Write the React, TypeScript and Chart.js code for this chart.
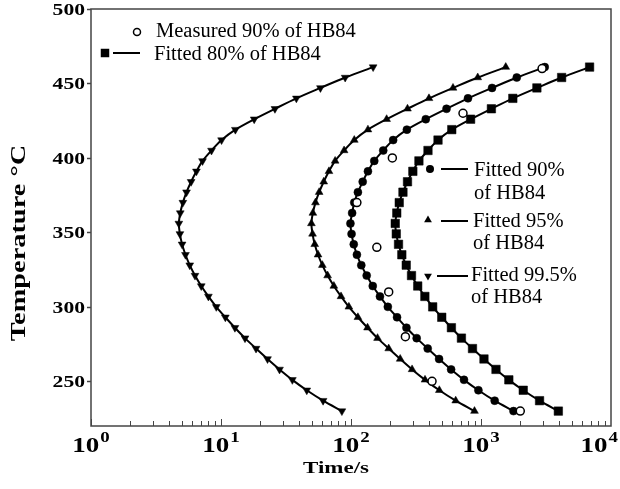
import React, { useEffect, useRef } from 'react';
import { Chart, registerables } from 'chart.js';
Chart.register(...registerables);

// Temperatures (°C) at which the fitted curves are sampled
const TEMPS = [230, 237, 244, 251, 258, 265, 272, 279, 286, 293, 300, 307, 314, 321, 328, 335, 342, 349, 356, 363, 370, 377, 384, 391, 398, 405, 412, 419, 426, 433, 440, 447, 454, 461];
// Times (s)
const FIT_99_5 = [85.1, 61.0, 45.7, 35.4, 28.2, 22.8, 18.6, 15.3, 12.8, 10.8, 9.2, 8.0, 7.05, 6.31, 5.75, 5.33, 5.02, 4.83, 4.74, 4.86, 5.09, 5.43, 5.89, 6.47, 7.21, 8.45, 10.1, 12.9, 18.0, 26.0, 38.0, 58.2, 90.2, 148];
const FIT_95 = [891, 639, 478, 371, 295, 239, 195, 160, 134, 113, 96.3, 83.8, 73.8, 66.1, 60.2, 55.8, 52.6, 50.6, 49.6, 50.9, 53.3, 56.9, 61.7, 67.7, 75.5, 88.5, 106, 135, 188, 272, 398, 609, 944, 1550];
const FIT_90 = [1778, 1274, 955, 740, 589, 476, 389, 320, 267, 226, 192, 167, 147, 132, 120, 111, 105, 101, 99.0, 102, 106, 113, 123, 135, 151, 177, 211, 269, 376, 543, 794, 1216, 1884, 3092];
const FIT_80 = [3935, 2821, 2113, 1637, 1304, 1054, 860, 707, 592, 499, 425, 370, 326, 292, 266, 246, 232, 223, 219, 225, 235, 251, 272, 299, 333, 391, 467, 596, 832, 1202, 1757, 2691, 4171, 6844];
const MEAS_T = [460, 430, 400, 370, 340, 310, 280, 250, 230];
const MEAS_TIME = [2950, 727, 208, 111, 158, 195, 262, 420, 2005];

const Y_TICKS = [250, 300, 350, 400, 450, 500];
const X_EXPONENTS = [0, 1, 2, 3, 4];
const X_MIN = 1, X_MAX = 10000, Y_MIN = 220, Y_MAX = 500;

const W = 620, H = 489;
const SX = 1.35;
const SERIF = '"Liberation Serif", "Times New Roman", serif';

const pts = (xs: number[], ys: number[]) => xs.map((x, i) => ({ x, y: ys[i] }));

function sText(ctx: CanvasRenderingContext2D, text: string, x: number, y: number, font: string, align: CanvasTextAlign, baseline: CanvasTextBaseline, sx = SX) {
  ctx.save();
  ctx.font = font;
  ctx.translate(x, y);
  ctx.scale(sx, 1);
  ctx.textAlign = align;
  ctx.textBaseline = baseline;
  ctx.fillStyle = '#000';
  ctx.fillText(text, 0, 0);
  ctx.restore();
}

function marker(ctx: CanvasRenderingContext2D, style: string, x: number, y: number, r: number, rot = 0) {
  ctx.save();
  ctx.fillStyle = '#000';
  ctx.strokeStyle = '#000';
  ctx.lineWidth = 1.5;
  ctx.beginPath();
  if (style === 'circle' || style === 'open') {
    ctx.arc(x, y, r, 0, Math.PI * 2);
    if (style === 'open') { ctx.fillStyle = '#fff'; ctx.fill(); ctx.stroke(); } else ctx.fill();
  } else if (style === 'rect') {
    const s = r * Math.SQRT1_2;
    ctx.rect(x - s, y - s, 2 * s, 2 * s);
    ctx.fill();
  } else {
    let a = (rot * Math.PI) / 180;
    ctx.moveTo(x + Math.sin(a) * r, y - Math.cos(a) * r);
    a += (2 * Math.PI) / 3;
    ctx.lineTo(x + Math.sin(a) * r, y - Math.cos(a) * r);
    a += (2 * Math.PI) / 3;
    ctx.lineTo(x + Math.sin(a) * r, y - Math.cos(a) * r);
    ctx.closePath();
    ctx.fill();
  }
  ctx.restore();
}

const decorPlugin = {
  id: 'decor',
  afterDraw(chart: any) {
    const ctx: CanvasRenderingContext2D = chart.ctx;
    const { left, right, top, bottom } = chart.chartArea;
    const xs = chart.scales.x, ys = chart.scales.y;
    ctx.save();
    // frame
    ctx.strokeStyle = '#444';
    ctx.lineWidth = 1.5;
    ctx.strokeRect(left, top, right - left, bottom - top);
    // y ticks
    ctx.lineWidth = 1.5;
    for (const v of Y_TICKS) {
      const py = Math.round(ys.getPixelForValue(v)) + 0.5;
      ctx.beginPath(); ctx.moveTo(left - 4, py); ctx.lineTo(left, py); ctx.stroke();
      sText(ctx, String(v), left - 6, py + 1, `bold 16px ${SERIF}`, 'right', 'middle');
    }
    // x ticks (inward)
    ctx.lineWidth = 1;
    for (let e = 0; e < 4; e++) {
      for (let m = 1; m <= 9; m++) {
        const px = Math.round(xs.getPixelForValue(m * Math.pow(10, e))) + 0.5;
        const len = m === 1 ? 7 : 5;
        ctx.beginPath(); ctx.moveTo(px, bottom); ctx.lineTo(px, bottom - len); ctx.stroke();
      }
    }
    // x tick labels 10^n
    const baseFont = `bold 20px ${SERIF}`, supFont = `bold 14px ${SERIF}`;
    for (const e of X_EXPONENTS) {
      const px = xs.getPixelForValue(Math.pow(10, e));
      ctx.font = baseFont; const w1 = ctx.measureText('10').width * SX;
      ctx.font = supFont; const w2 = ctx.measureText(String(e)).width * SX;
      let lx = px - (w1 + w2 + 1) / 2;
      if (lx + w1 + w2 + 1 > W - 2) lx = W - 2 - (w1 + w2 + 1);
      sText(ctx, '10', lx, bottom + 26, baseFont, 'left', 'alphabetic');
      sText(ctx, String(e), lx + w1 + 1, bottom + 16, supFont, 'left', 'alphabetic');
    }
    // axis titles
    sText(ctx, 'Time/s', 336, bottom + 43, `bold 17px ${SERIF}`, 'center', 'middle');
    ctx.save();
    ctx.translate(20, 243);
    ctx.rotate(-Math.PI / 2);
    sText(ctx, 'Temperature °C', 0, 0, `bold 21px ${SERIF}`, 'center', 'middle');
    ctx.restore();

    // legends
    const lf = `20.5px ${SERIF}`;
    ctx.strokeStyle = '#000';
    ctx.lineWidth = 2;
    marker(ctx, 'open', 137, 32, 3.5);
    sText(ctx, 'Measured 90% of HB84', 156, 37, lf, 'left', 'alphabetic', 1);
    marker(ctx, 'rect', 105, 53, 6);
    ctx.beginPath(); ctx.moveTo(113, 53); ctx.lineTo(140, 53); ctx.stroke();
    sText(ctx, 'Fitted 80% of HB84', 154, 60, lf, 'left', 'alphabetic', 1);

    marker(ctx, 'circle', 430, 169, 4);
    ctx.beginPath(); ctx.moveTo(441, 169); ctx.lineTo(468, 169); ctx.stroke();
    sText(ctx, 'Fitted 90%', 474, 176, lf, 'left', 'alphabetic', 1);
    sText(ctx, 'of HB84', 474, 199, lf, 'left', 'alphabetic', 1);

    marker(ctx, 'triangle', 428, 220, 4.5);
    ctx.beginPath(); ctx.moveTo(441, 221); ctx.lineTo(468, 221); ctx.stroke();
    sText(ctx, 'Fitted 95%', 473, 227, lf, 'left', 'alphabetic', 1);
    sText(ctx, 'of HB84', 473, 249, lf, 'left', 'alphabetic', 1);

    marker(ctx, 'triangle', 428, 276, 4.5, 180);
    ctx.beginPath(); ctx.moveTo(437, 276); ctx.lineTo(468, 276); ctx.stroke();
    sText(ctx, 'Fitted 99.5%', 471, 281, lf, 'left', 'alphabetic', 1);
    sText(ctx, 'of HB84', 471, 303, lf, 'left', 'alphabetic', 1);
    ctx.restore();
  },
};

export default function App() {
  const ref = useRef<HTMLCanvasElement>(null);
  useEffect(() => {
    const fitted = (label: string, data: number[], style: string, r: number, rot = 0) => ({
      label,
      data: pts(data, TEMPS),
      showLine: true,
      borderColor: '#000',
      backgroundColor: '#000',
      borderWidth: 2,
      pointStyle: style,
      pointRotation: rot,
      pointRadius: r,
      pointBackgroundColor: '#000',
      pointBorderColor: '#000',
      pointBorderWidth: 0.5,
      tension: 0.3,
    });
    const chart = new Chart(ref.current!, {
      type: 'scatter',
      data: {
        datasets: [
          {
            label: 'Measured 90% of HB84',
            data: pts(MEAS_TIME, MEAS_T),
            showLine: false,
            pointStyle: 'circle',
            pointRadius: 4,
            pointBackgroundColor: '#fff',
            pointBorderColor: '#000',
            pointBorderWidth: 1.5,
          },
          fitted('Fitted 80% of HB84', FIT_80, 'rect', 6),
          fitted('Fitted 90% of HB84', FIT_90, 'circle', 4),
          fitted('Fitted 95% of HB84', FIT_95, 'triangle', 4.5),
          fitted('Fitted 99.5% of HB84', FIT_99_5, 'triangle', 4.5, 180),
        ] as any,
      },
      options: {
        responsive: true,
        maintainAspectRatio: false,
        animation: false,
        layout: { padding: { top: 9, right: 9, left: 0, bottom: 0 } },
        plugins: { legend: { display: false }, tooltip: { enabled: false } },
        scales: {
          x: {
            type: 'logarithmic', min: X_MIN, max: X_MAX,
            ticks: { display: false }, grid: { display: false }, border: { display: false },
            afterFit: (s: any) => { s.height = 63; },
          },
          y: {
            type: 'linear', min: Y_MIN, max: Y_MAX,
            ticks: { display: false }, grid: { display: false }, border: { display: false },
            afterFit: (s: any) => { s.width = 91; },
          },
        },
      } as any,
      plugins: [decorPlugin],
    });
    return () => chart.destroy();
  }, []);
  return (
    <div style={{ position: 'fixed', left: 0, top: 0, width: W, height: H, background: '#fff' }}>
      <canvas ref={ref} />
    </div>
  );
}
